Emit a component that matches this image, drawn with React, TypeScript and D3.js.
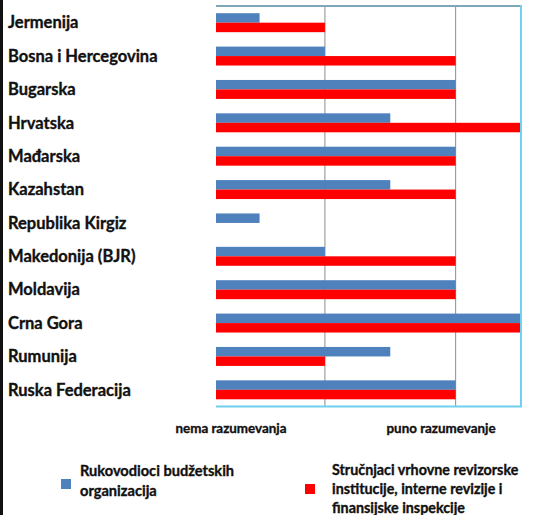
import React from "react";
import * as d3 from "d3";

const categories = [
  "Jermenija",
  "Bosna i Hercegovina",
  "Bugarska",
  "Hrvatska",
  "Mađarska",
  "Kazahstan",
  "Republika Kirgiz",
  "Makedonija (BJR)",
  "Moldavija",
  "Crna Gora",
  "Rumunija",
  "Ruska Federacija",
];
const rukovodioci = [1, 2, 4, 3, 4, 3, 1, 2, 4, 5, 3, 4];
const strucnjaci = [2, 4, 4, 5, 4, 4, 0, 4, 4, 5, 2, 4];
const seriesNames = [
  ["Rukovodioci budžetskih", "organizacija"],
  ["Stručnjaci vrhovne revizorske", "institucije, interne revizije i", "finansijske inspekcije"],
];
const seriesColors = ["#4F81BD", "#FF0000"];
const axisLabels = ["nema razumevanja", "puno razumevanje"];
const gridValues = [2, 4];
const xDomain = [1 / 3, 5];

const W = 533;
const H = 515;
const FONT = "Lato, 'Open Sans', sans-serif";
const TXT = { fontFamily: FONT, fontWeight: 700, fill: "#111", stroke: "#111", strokeWidth: 0.35 } as const;

export default function App() {
  const plot = { left: 216, right: 521, top: 6, bottom: 406.5 };
  const x = d3.scaleLinear().domain(xDomain).range([plot.left, plot.right]);
  const y = d3.scaleBand<string>().domain(categories).range([plot.top, plot.bottom]).paddingInner(0).paddingOuter(0);
  const sub = d3
    .scaleBand<string>()
    .domain(["a", "b"])
    .range([0, y.bandwidth()])
    .paddingInner(0)
    .paddingOuter(0.76);
  const series = [rukovodioci, strucnjaci];
  const keys = ["a", "b"];

  return (
    <div style={{ position: "absolute", left: 0, top: 0 }}>
      <svg width={W} height={H} style={{ display: "block", background: "#fff" }}>
        <rect x={0} y={0} width={3} height={H} fill="#111" />
        {gridValues.map((g) => (
          <line key={g} x1={x(g)} x2={x(g)} y1={plot.top} y2={plot.bottom} stroke="#8c8c8c" strokeWidth={1} />
        ))}
        {categories.map((c, i) => (
          <g key={c}>
            {series.map((s, k) =>
              s[i] > 0 ? (
                <rect
                  key={k}
                  x={plot.left}
                  y={(y(c) ?? 0) + (sub(keys[k]) ?? 0)}
                  width={x(s[i]) - plot.left}
                  height={sub.bandwidth()}
                  fill={seriesColors[k]}
                />
              ) : null
            )}
            <text x={8} y={(y(c) ?? 0) + y.bandwidth() / 2} dy="0.35em" fontSize={16.5} {...TXT}>
              {c}
            </text>
          </g>
        ))}
        <line x1={plot.left} x2={plot.right} y1={plot.top} y2={plot.top} stroke="#7fa7b7" strokeWidth={2} />
        <line x1={plot.right} x2={plot.right} y1={plot.top - 1} y2={plot.bottom} stroke="#6fd0f2" strokeWidth={2} />
        <line x1={plot.left} x2={plot.right + 1} y1={plot.bottom} y2={plot.bottom} stroke="#6fd0f2" strokeWidth={2} />
        <text x={231} y={428} dy="0.35em" textAnchor="middle" fontSize={13.4} {...TXT}>
          {axisLabels[0]}
        </text>
        <text x={441} y={428} dy="0.35em" textAnchor="middle" fontSize={13.4} {...TXT}>
          {axisLabels[1]}
        </text>
        <rect x={61} y={479} width={10} height={10} fill={seriesColors[0]} />
        {seriesNames[0].map((t, i) => (
          <text key={t} x={80} y={471 + i * 20} dy="0.35em" fontSize={14.6} {...TXT}>
            {t}
          </text>
        ))}
        <rect x={305} y={484} width={10} height={10} fill={seriesColors[1]} />
        {seriesNames[1].map((t, i) => (
          <text key={t} x={332} y={469.5 + i * 19.3} dy="0.35em" fontSize={14.3} {...TXT}>
            {t}
          </text>
        ))}
      </svg>
    </div>
  );
}
